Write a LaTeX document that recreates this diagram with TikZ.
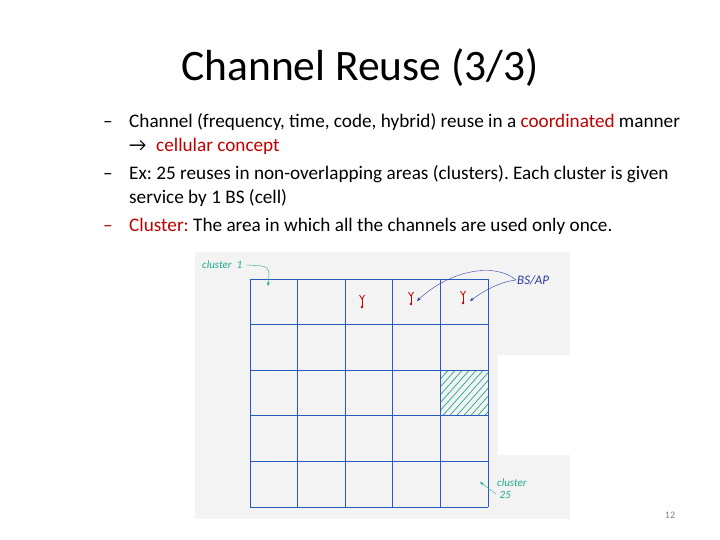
\documentclass[tikz,border=0pt]{standalone}
\usepackage{fontspec}
\setmainfont{Carlito}
\usetikzlibrary{positioning,arrows.meta}
\frenchspacing

\definecolor{slidered}{RGB}{192,0,0}
\definecolor{gridblue}{RGB}{40,90,190}
\definecolor{penteal}{RGB}{30,170,140}
\definecolor{penblue}{RGB}{40,60,160}
\definecolor{photogray}{RGB}{243,243,243}

\tikzset{
  bullettext/.style={anchor=base west, inner sep=0pt, font=\fontsize{19.2}{22}\selectfont},
  dashmark/.style={anchor=base west, inner sep=0pt, font=\fontsize{19.2}{22}\selectfont},
  pen/.style={font=\fontsize{11}{12}\itshape\selectfont, inner sep=1pt},
  gridline/.style={gridblue, line width=1pt}
}

\begin{document}
\begin{tikzpicture}[x=1pt, y=-1pt]
        \useasboundingbox (0,0) rectangle (720,540);

        % --- 1. Title and bullet points ---
        \node[font=\fontsize{43.5}{46}\selectfont, inner sep=0pt] (title) at (360,68) {Channel Reuse (3/3)};

        \node[dashmark] (d1) at (103,128) {--};
        \node[bullettext] (l1) at (129,128) {Channel (frequency, time, code, hybrid) reuse in a \textcolor{slidered}{coordinated} manner};
        \node[bullettext] (l2) at (129,152) {→\enspace\textcolor{slidered}{cellular concept}};
        \node[dashmark] (d2) at (103,180) {--};
        \node[bullettext] (l3) at (129,180) {Ex: 25 reuses in non-overlapping areas (clusters). Each cluster is given};
        \node[bullettext] (l4) at (129,204) {service by 1 BS (cell)};
        \node[dashmark, slidered] (d3) at (103,232) {--};
        \node[bullettext] (l5) at (129,232) {\textcolor{slidered}{Cluster:} The area in which all the channels are used only once.};

        % --- 2. Photo background ---
        \fill[photogray] (195,252) rectangle (570,519);
        \fill[white] (498,355) rectangle (571,455);

        % --- 3. Hatched cluster ---
        \begin{scope}
            \clip (440.4,370.2) rectangle (488,415.8);
            \foreach \k in {-9,...,9} {
                \draw[penteal, line width=0.7pt] ({430+7*\k},422) -- ({480+7*\k},366);
            }
        \end{scope}

        % --- 4. Grid of 5x5 clusters ---
        \foreach \i in {0,...,5} {
            \draw[gridline] ({250+47.6*\i},279) -- ({250+47.6*\i},507);
            \draw[gridline] (250,{279+45.6*\i}) -- (488,{279+45.6*\i});
        }

        % --- 5. Base stations (red antennas) ---
        \foreach \n/\x/\y in {1/362/302, 2/411/299, 3/463/298} {
            \coordinate (ant\n) at (\x,\y);
            \draw[red!80!black, line width=1pt] (\x,{\y-4}) -- (\x,{\y+5});
            \draw[red!80!black, line width=0.8pt] ({\x-2.5},{\y-7}) -- (\x,{\y-3}) -- ({\x+2.5},{\y-7});
            \fill[red!80!black] (\x,{\y+5}) circle (1.4pt);
        }

        % --- 6. Handwritten labels ---
        \node[pen, penblue, anchor=west, font=\fontsize{13}{14}\itshape\selectfont] (bsap) at (516,280) {BS/AP};
        \draw[penblue, thin, -{Stealth[length=4pt]}] (bsap.west)
            .. controls (495,262) and (450,270) .. ([xshift=6pt,yshift=-2pt]ant2);
        \draw[penblue, thin, -{Stealth[length=4pt]}] (bsap.west)
            .. controls (500,282) and (485,290) .. ([xshift=7pt,yshift=-3pt]ant3);

        \node[pen, penteal, anchor=west] (c1) at (201,265) {cluster \ 1};
        \coordinate (c1tip) at (268,286);
        \draw[penteal, thin, -{Stealth[length=4pt]}] ([xshift=3pt]c1.east)
            .. controls (270,266) .. (c1tip);

        \node[pen, penteal, anchor=west, align=left] (c25) at (496,489) {cluster\\\ 25};
        \coordinate (c25tip) at (480,482);
        \draw[penteal, thin, -{Stealth[length=4pt]}] ([yshift=-5pt]c25.west) -- (c25tip);

        % --- 7. Slide number ---
        \node[gray, font=\fontsize{10}{12}\selectfont] (num) at (670,515) {12};

    \end{tikzpicture}
\end{document}
